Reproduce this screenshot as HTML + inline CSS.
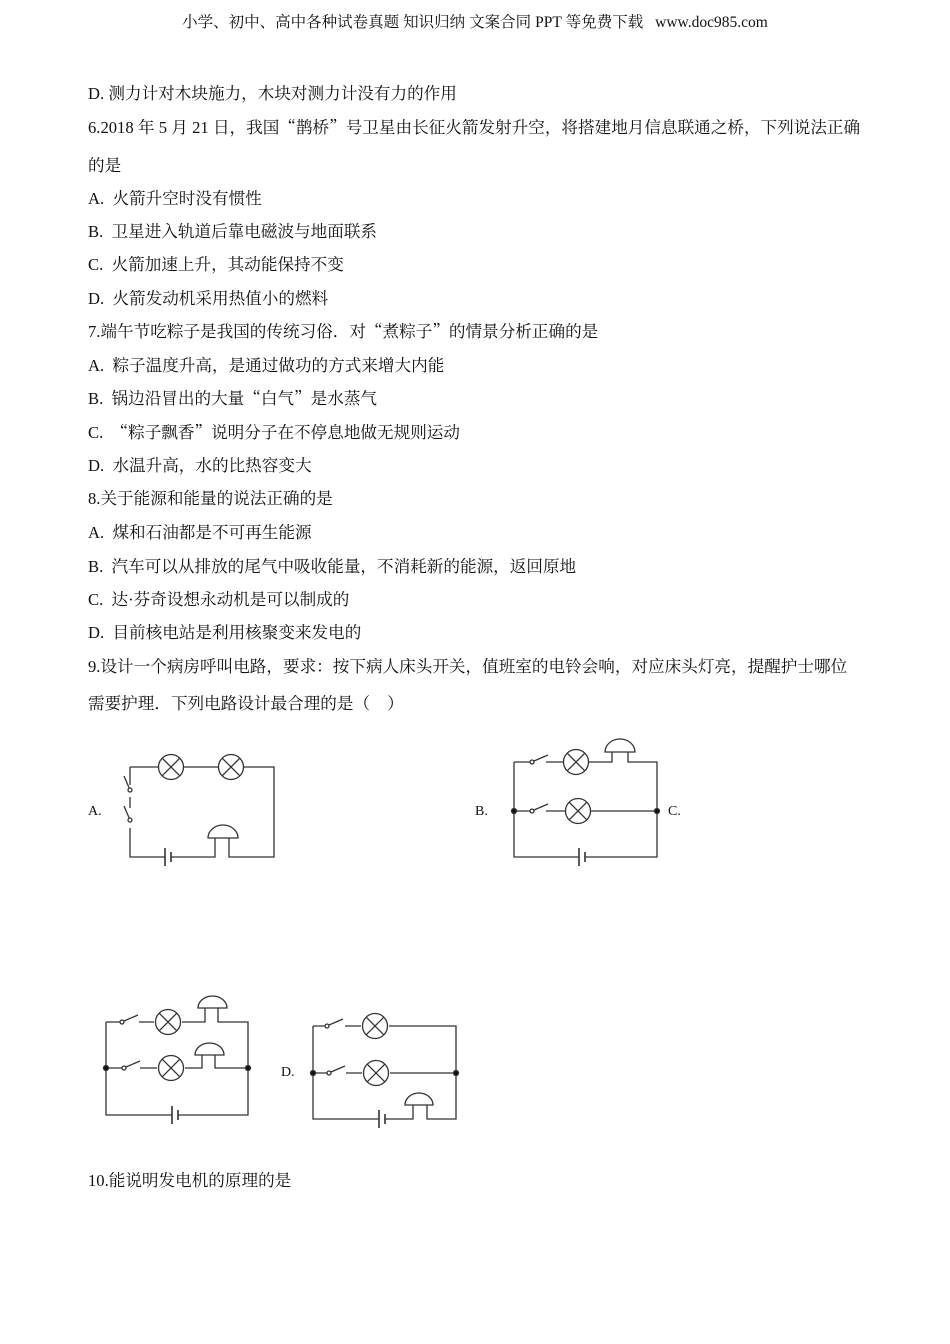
<!DOCTYPE html>
<html><head><meta charset="utf-8"><style>
body{margin:0;background:#fff;width:950px;height:1344px;position:relative;overflow:hidden;font-family:"Noto Serif CJK SC","Liberation Serif",serif;color:#111}
.t{position:absolute;left:88px;font-size:16.6px;white-space:nowrap;line-height:20px}
.e{font-family:"Liberation Serif",serif}
.h{position:absolute;top:10px;left:0;width:950px;text-align:center;font-size:15.5px}
svg{position:absolute;left:0;top:0}
</style></head><body>
<div class="h">小学、初中、高中各种试卷真题 知识归纳 文案合同 <span class="e">PPT</span> 等免费下载 &nbsp; <span class="e">www.doc985.com</span></div>
<div class="t" style="top:82px"><span class="e">D.</span> 测力计对木块施力，木块对测力计没有力的作用</div>
<div class="t" style="top:116px"><span class="e">6.2018</span> 年 <span class="e">5</span> 月 <span class="e">21</span> 日，我国“鹊桥”号卫星由长征火箭发射升空，将搭建地月信息联通之桥，下列说法正确</div>
<div class="t" style="top:154px">的是</div>
<div class="t" style="top:187px"><span class="e">A.&nbsp; </span>火箭升空时没有惯性</div>
<div class="t" style="top:220px"><span class="e">B.&nbsp; </span>卫星进入轨道后靠电磁波与地面联系</div>
<div class="t" style="top:253px"><span class="e">C.&nbsp; </span>火箭加速上升，其动能保持不变</div>
<div class="t" style="top:287px"><span class="e">D.&nbsp; </span>火箭发动机采用热值小的燃料</div>
<div class="t" style="top:320px"><span class="e">7.</span>端午节吃粽子是我国的传统习俗．对“煮粽子”的情景分析正确的是</div>
<div class="t" style="top:354px"><span class="e">A.&nbsp; </span>粽子温度升高，是通过做功的方式来增大内能</div>
<div class="t" style="top:387px"><span class="e">B.&nbsp; </span>锅边沿冒出的大量“白气”是水蒸气</div>
<div class="t" style="top:421px"><span class="e">C.&nbsp; </span>“粽子飘香”说明分子在不停息地做无规则运动</div>
<div class="t" style="top:454px"><span class="e">D.&nbsp; </span>水温升高，水的比热容变大</div>
<div class="t" style="top:487px"><span class="e">8.</span>关于能源和能量的说法正确的是</div>
<div class="t" style="top:521px"><span class="e">A.&nbsp; </span>煤和石油都是不可再生能源</div>
<div class="t" style="top:555px"><span class="e">B.&nbsp; </span>汽车可以从排放的尾气中吸收能量，不消耗新的能源，返回原地</div>
<div class="t" style="top:588px"><span class="e">C.&nbsp; </span>达<span class="e">·</span>芬奇设想永动机是可以制成的</div>
<div class="t" style="top:621px"><span class="e">D.&nbsp; </span>目前核电站是利用核聚变来发电的</div>
<div class="t" style="top:655px"><span class="e">9.</span>设计一个病房呼叫电路，要求：按下病人床头开关，值班室的电铃会响，对应床头灯亮，提醒护士哪位</div>
<div class="t" style="top:692px">需要护理．下列电路设计最合理的是（&nbsp;&nbsp;&nbsp; ）</div>
<div class="t e" style="top:802px;font-size:14px">A.</div>
<div class="t e" style="top:802px;left:475px;font-size:14px">B.</div>
<div class="t e" style="top:802px;left:668px;font-size:14px">C.</div>
<div class="t e" style="top:1063px;left:281px;font-size:14px">D.</div>
<div class="t" style="top:1169px"><span class="e">10.</span>能说明发电机的原理的是</div>
<svg width="950" height="1344" stroke="#333" stroke-width="1.3" fill="none">
<defs>
<g id="L"><circle r="12.5" fill="#fff"/><path d="M-8.8,-8.8L8.8,8.8M-8.8,8.8L8.8,-8.8"/></g>
<g id="S"><circle cx="0" cy="0" r="2" fill="#fff"/><path d="M2,-1L16,-7"/></g>
<g id="Bat"><path d="M-3,-9V9M3,-5V5" stroke-width="1.6"/></g>
</defs>
<path d="M130,767H158M184,767H218M244,767H274V857H229V838M215,838V857H171M165,857H130V828M130,808V797M130,785V767"/>
<path d="M130,790L124,776M130,820L124,806"/><circle cx="130" cy="790" r="2" fill="#fff"/><circle cx="130" cy="820" r="2" fill="#fff"/>
<path d="M208,838a15,13 0 0 1 30,0z" fill="#fff"/>
<use href="#L" x="171" y="767"/><use href="#L" x="231" y="767"/>
<use href="#Bat" x="168" y="857"/>
<path d="M514,762H530M546,762H563M589,762H612V752M628,752V762H657V857H585M579,857H514V762M514,811H530M546,811H565M591,811H657"/>
<use href="#S" x="532" y="762"/><use href="#S" x="532" y="811"/>
<path d="M605,752a15,13 0 0 1 30,0z" fill="#fff"/>
<use href="#L" x="576" y="762"/><use href="#L" x="578" y="811"/>
<use href="#Bat" x="582" y="857"/>
<circle cx="514" cy="811" r="2.5" fill="#111"/><circle cx="657" cy="811" r="2.5" fill="#111"/>
<path d="M106,1022H121M139,1022H154M182,1022H205V1008M218,1008V1022H248V1115H178M172,1115H106V1022M106,1068H122M140,1068H157M185,1068H202V1055M215,1055V1068H248"/>
<use href="#S" x="122" y="1022"/><use href="#S" x="124" y="1068"/>
<path d="M198,1008a14.5,12 0 0 1 29,0z" fill="#fff"/>
<path d="M195,1055a14.5,12 0 0 1 29,0z" fill="#fff"/>
<use href="#L" x="168" y="1022"/><use href="#L" x="171" y="1068"/>
<use href="#Bat" x="175" y="1115"/>
<circle cx="106" cy="1068" r="2.5" fill="#111"/><circle cx="248" cy="1068" r="2.5" fill="#111"/>
<path d="M313,1026H327M345,1026H361M389,1026H456V1119H427V1105M413,1105V1119H385M379,1119H313V1026M313,1073H328M346,1073H362M390,1073H456"/>
<use href="#S" x="327" y="1026"/><use href="#S" x="329" y="1073"/>
<path d="M405,1105a14,12 0 0 1 28,0z" fill="#fff"/>
<use href="#L" x="375" y="1026"/><use href="#L" x="376" y="1073"/>
<use href="#Bat" x="382" y="1119"/>
<circle cx="313" cy="1073" r="2.5" fill="#111"/><circle cx="456" cy="1073" r="2.5" fill="#111"/>
</svg>
</body></html>
